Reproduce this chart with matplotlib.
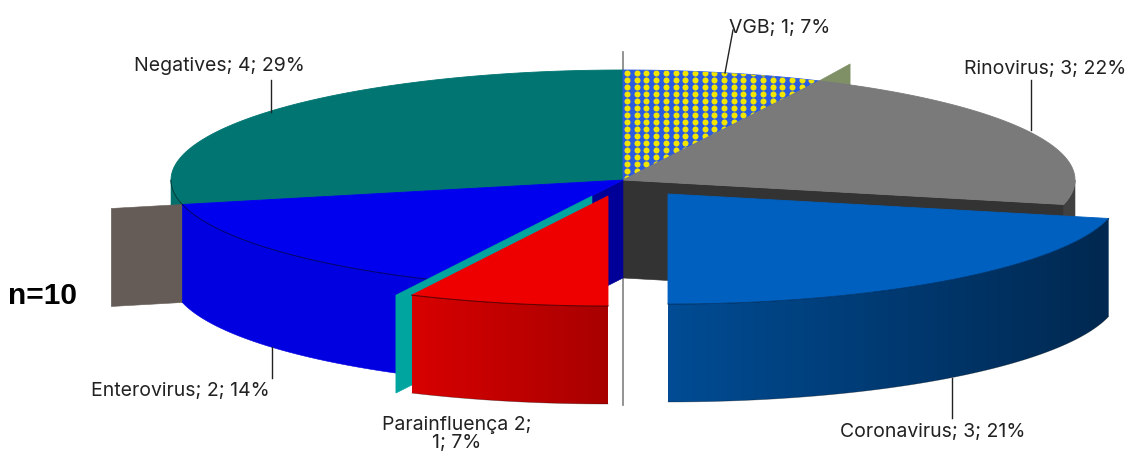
import numpy as np
import matplotlib
matplotlib.use("Agg")
import matplotlib.pyplot as plt
from matplotlib.colors import LinearSegmentedColormap
from matplotlib.patches import Polygon

names = ["VGB", "Rinovirus", "Coronavirus", "Parainfluença 2", "Enterovirus", "Negatives"]
values = [1, 3, 3, 1, 2, 4]
pcts = [7, 22, 21, 7, 14, 29]
sample_label = "n=10"

# pie layout, in pixels of the 1129x453 picture
cx, cy = 623, 180
rx, ry = 452, 110
depth = 98
cor_c = (668, 194)
red_c = (608, 196)

plt.rcParams['font.family'] = ['Inter', 'DejaVu Sans']

angles = np.concatenate([[0], np.cumsum(values)]) / sum(values) * 360.0
vgb_a, rino_a, cor_a, para_a, entero_a, neg_a = [(angles[i], angles[i + 1]) for i in range(6)]


def arc(c, a0, a1, n=80):
	t = np.radians(np.linspace(a0, a1, n))
	return np.column_stack([c[0] + rx * np.sin(t), c[1] - ry * np.cos(t)])


def top(ax, c, a, color, line=None, z=1):
	pts = np.vstack([[c], arc(c, a[0], a[1])])
	poly = Polygon(pts, closed=True, facecolor=color, edgecolor=line if line else color, lw=0.6, zorder=z)
	ax.add_patch(poly)
	return poly


def wall(ax, c, a, color, z=1):
	pts = arc(c, a[0], a[1])
	low = pts + [0, depth]
	ax.fill(np.r_[pts[:, 0], low[::-1, 0]], np.r_[pts[:, 1], low[::-1, 1]], color=color, lw=0.4, zorder=z)


def gradient_wall(ax, c, a, col_left, col_right, z=1):
	pts = arc(c, a[0], a[1])
	low = pts + [0, depth]
	outline = Polygon(np.vstack([pts, low[::-1]]), closed=True, facecolor='none', edgecolor='none',
		transform=ax.transData, zorder=z)
	ax.add_patch(outline)
	cmap = LinearSegmentedColormap.from_list("w", [col_left, col_right])
	x0, x1 = pts[:, 0].min(), pts[:, 0].max()
	y0, y1 = pts[:, 1].min(), low[:, 1].max()
	im = ax.imshow(np.linspace(0, 1, 256)[None, :], cmap=cmap, extent=(x0, x1, y1, y0), aspect='auto', zorder=z)
	im.set_clip_path(outline)
	ax.plot(*pts.T, color='#00000090', lw=0.7, zorder=z + 0.1)
	ax.plot(*low.T, color='#00000060', lw=0.5, zorder=z + 0.1)


def radial_face(ax, start, a, color, z=1):
	t = np.radians(a)
	end = (start[0] + rx * np.sin(t), start[1] - ry * np.cos(t))
	xs = [start[0], end[0], end[0], start[0]]
	ys = [start[1], end[1], end[1] + depth, start[1] + depth]
	ax.fill(xs, ys, color=color, lw=0.4, zorder=z)


fig = plt.figure(figsize=(11.29, 4.53), dpi=100)
ax = fig.add_axes([0, 0, 1, 1])
ax.axis('off')

# guide line behind the pie
ax.plot([cx, cx], [52, 405], color='#808080', lw=1.2, zorder=1)

# olive piece sticking out behind the VGB slice
vgb_end = arc((cx, cy), vgb_a[1], vgb_a[1], 1)[0]
ax.fill([vgb_end[0], vgb_end[0] + 31, vgb_end[0] + 31],
	[vgb_end[1], vgb_end[1] - 17, vgb_end[1] + 5], color='#7f8f66', lw=0.4, zorder=2)

# rear walls
wall(ax, (cx, cy), (neg_a[0], 270), '#00706c', 3)
wall(ax, (cx, cy), (90, rino_a[1]), '#404040', 3)
radial_face(ax, (cx, cy), rino_a[1], '#333333', 4)

# rear tops
top(ax, (cx, cy), neg_a, '#007571', z=5)
top(ax, (cx, cy), rino_a, '#7a7a7a', z=6)
vgb_poly = top(ax, (cx, cy), vgb_a, '#2b5ce0', z=5)

# VGB dot texture, clipped to the slice
gx, gy = np.meshgrid(np.arange(627, 830, 9.7), np.arange(73, 184, 7.0))
dots = ax.scatter(gx.ravel(), gy.ravel(), s=19, marker='o', color='#f2e600', lw=0, zorder=5.5)
dots.set_clip_path(vgb_poly)
ax.plot(*arc((cx, cy), neg_a[0], 270).T, color='#00000090', lw=0.6, zorder=6)

# brown flap left of the enterovirus slice
e = arc((cx, cy), entero_a[1], entero_a[1], 1)[0]
ax.fill([e[0] - 71, e[0], e[0], e[0] - 71], [e[1] + 4, e[1], e[1] + depth, e[1] + 4 + depth],
	color='#655c58', lw=0.4, zorder=7)

# enterovirus
radial_face(ax, (cx, cy), entero_a[0], '#000099', 7)
wall(ax, (cx, cy), entero_a, '#0000e0', 8)
top(ax, (cx, cy), entero_a, '#0000ee', z=9)
ax.plot(*arc((cx, cy), entero_a[0], entero_a[1]).T, color='#00000090', lw=0.7, zorder=9)

# parainfluenza, with its teal inner face
radial_face(ax, (red_c[0] - 16, red_c[1]), para_a[1], '#00a5a0', 10)
gradient_wall(ax, red_c, para_a, '#d80000', '#a80000', 11)
top(ax, red_c, para_a, '#ee0000', z=12)
ax.plot(*arc(red_c, para_a[0], para_a[1]).T, color='#00000090', lw=0.7, zorder=12)

# coronavirus
gradient_wall(ax, cor_c, cor_a, '#004c94', '#002850', 13)
top(ax, cor_c, cor_a, '#0060c0', z=14)
ax.plot(*arc(cor_c, cor_a[0], cor_a[1]).T, color='#00000060', lw=0.6, zorder=14)

# leader lines
leaders_x = [(733, 725), (1031, 1031), (952, 952), (272, 272), (271, 271)]
leaders_y = [(30, 73), (80, 130), (378, 418), (347, 378), (80, 112)]
for lx, ly in zip(leaders_x, leaders_y):
	ax.plot(lx, ly, color='#222222', lw=1.0, zorder=15)

# data labels
label_pos = [(780, 28), (1045, 69), (933, 432), (457, 434), (180, 391), (219, 66)]
for i in range(6):
	sep = ";\n" if names[i].startswith("Para") else "; "
	txt = names[i] + sep + str(values[i]) + "; " + str(pcts[i]) + "%"
	ax.text(label_pos[i][0], label_pos[i][1], txt, ha='center', va='center', fontsize=14,
		color='#222222', linespacing=1.0, zorder=16)

ax.text(43, 296, sample_label, ha='center', va='center', fontsize=21.5, fontweight='bold',
	family=['Liberation Sans', 'DejaVu Sans'], color='black', zorder=16)

ax.set_xlim(0, 1129)
ax.set_ylim(453, 0)

fig.savefig("out.png", dpi=100)
